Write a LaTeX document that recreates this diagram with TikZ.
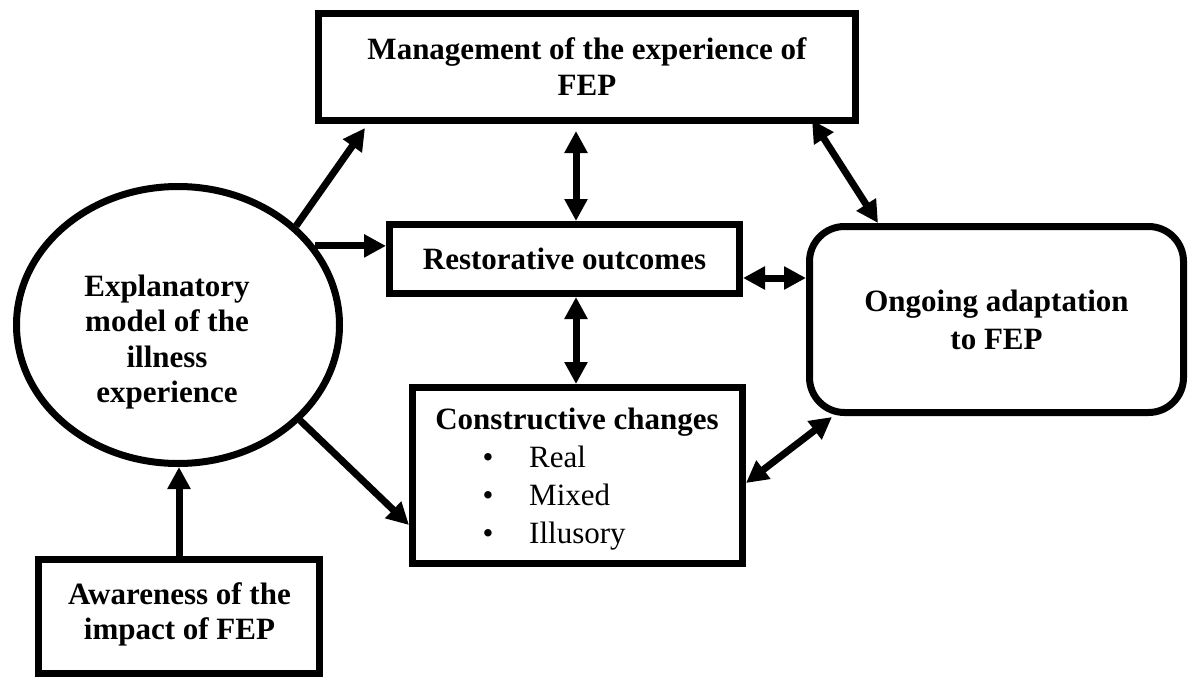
\documentclass[tikz,border=0pt]{standalone}
\usepackage{fontspec}
\setmainfont{Liberation Serif}
\usetikzlibrary{arrows.meta,calc,shapes.geometric}
\begin{document}
\begin{tikzpicture}[x=1pt,y=-1pt,
  frame/.style={draw=black,line width=7pt,inner sep=0pt,outer sep=3.5pt},
  boxlbl/.style={font=\bfseries\fontsize{31}{36}\selectfont,align=center},
  plain/.style={font=\fontsize{31}{38}\selectfont,inner sep=0pt},
  tip/.tip={Triangle[length=22pt,width=22pt]},
  link/.style={line width=7pt,-tip},
  link2/.style={line width=7pt,tip-tip}]
  \useasboundingbox (0,0) rectangle (1191,677);

  % boxes
  \node[frame,boxlbl,minimum width=537pt,minimum height=107pt] (mgmt) at (587,67)
    {Management of the experience of\\FEP};
  \node[frame,boxlbl,minimum width=350pt,minimum height=69pt] (rest) at (564.5,259)
    {Restorative outcomes};
  \node[frame,minimum width=330pt,minimum height=176pt] (cons) at (577.5,475.5) {};
  \node[frame,boxlbl,font=\bfseries\fontsize{31}{38}\selectfont,rounded corners=35pt,
        minimum width=374pt,minimum height=186pt] (adapt) at (996.5,319.5)
    {Ongoing adaptation\\to FEP};
  \node[frame,ellipse,minimum width=323pt,minimum height=277pt] (ell) at (178,325) {};
  \node[frame,minimum width=281pt,minimum height=114pt] (aware) at (179,616.5) {};

  % texts placed inside the ellipse and the lower-left box
  \node[boxlbl,font=\bfseries\fontsize{31}{35.3}\selectfont,inner sep=0pt] (elltext) at (167,342)
    {Explanatory\\model of the\\illness\\experience};
  \node[boxlbl,font=\bfseries\fontsize{31}{35}\selectfont,inner sep=0pt] (awaretext) at (179.5,614.5)
    {Awareness of the\\impact of FEP};

  % constructive changes: heading and bullet list
  \node[plain,font=\bfseries\fontsize{31}{38}\selectfont,anchor=base] (conshead) at (577,429) {Constructive changes};
  \node[plain,anchor=base] (b1) at (488,467) {•};
  \node[plain,anchor=base] (b2) at (488,505) {•};
  \node[plain,anchor=base] (b3) at (488,543) {•};
  \node[plain,anchor=base west] (i1) at (529,467) {Real};
  \node[plain,anchor=base west] (i2) at (529,505) {Mixed};
  \node[plain,anchor=base west] (i3) at (529,543) {Illusory};

  % helper points
  \coordinate (axis) at (576,0);
  \coordinate (rr) at ($(rest.east)+(0,19)$);

  % connectors
  \draw[link] (ell.40.6) -- ($(mgmt.south west)+(50,4)$);
  \draw[link] (ell.30) -- (ell.30 -| rest.west);
  \draw[link] (ell.-38) -- ($(cons.west)+(0,49.5)$);
  \draw[link] (aware.north) -- (aware.north |- ell.south);
  \draw[link2] ($(mgmt.south -| axis)+(0,7)$) -- (rest.north -| axis);
  \draw[link2] (rest.south -| axis) -- (cons.north -| axis);
  \draw[link2] (rr) -- (rr -| adapt.west);
  \draw[link2] ($(mgmt.south east)+(-47,-4)$) -- ($(adapt.north west)+(72,0)$);
  \draw[link2] ($(cons.east)+(0,7.5)$) -- ($(adapt.south west)+(26,1)$);
\end{tikzpicture}
\end{document}
